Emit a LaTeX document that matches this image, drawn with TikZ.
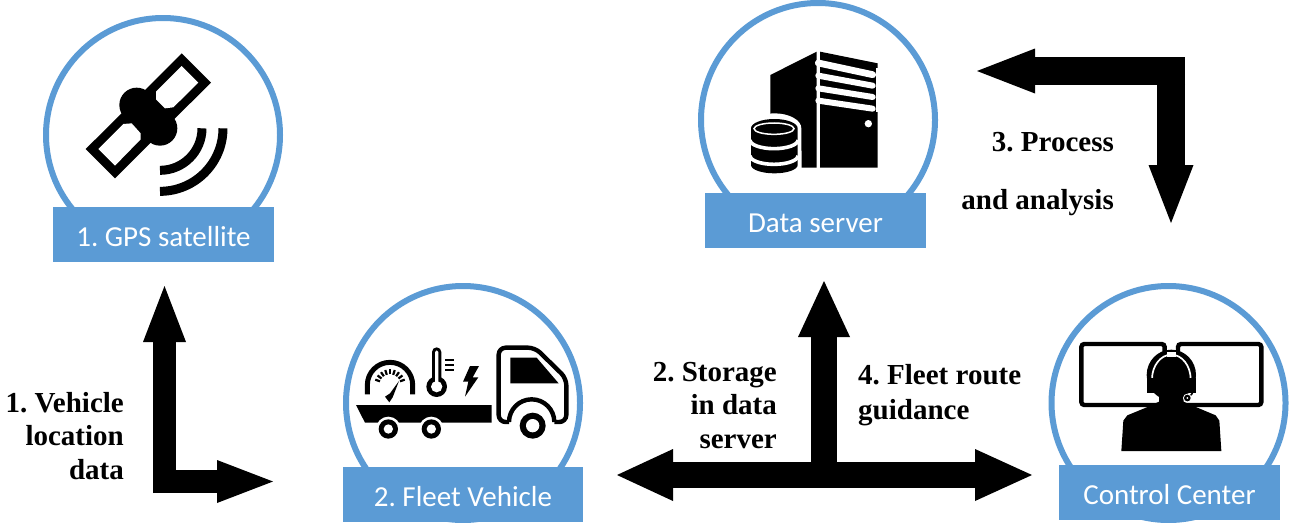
\documentclass[tikz,border=0pt]{standalone}
\usepackage{fontspec}
\setmainfont{Liberation Serif}
\newfontfamily\labfont{Carlito}
\usetikzlibrary{arrows.meta}
\definecolor{ringblue}{HTML}{5B9BD5}
\tikzset{
  ring/.style={circle,draw=ringblue,line width=6pt,fill=white,minimum size=234pt,inner sep=0pt},
  labelbox/.style={rectangle,fill=ringblue,text=white,minimum width=221pt,minimum height=55pt,inner sep=0pt,text height=23pt,text depth=0pt,font=\labfont\fontsize{29}{30}\selectfont},
  steplabel/.style={inner sep=0pt,font=\bfseries\fontsize{29}{33.5}\selectfont},
  ink/.style={fill=black,draw=none},
  blank/.style={fill=white,draw=none},
  tipa/.style={Triangle[length=56pt,width=43pt,line width=0pt]},
}
\frenchspacing
\begin{document}
\begin{tikzpicture}[x=1pt,y=-1pt,line join=miter]
\useasboundingbox (0,0) rectangle (1289,522);

% rings and labels
\node[ring] (gpsring) at (163,135) {};
\node[ring] (fleetring) at (463,403) {};
\node[ring] (dataring) at (818,120) {};
\node[ring] (ctrlring) at (1168.5,403) {};
\node[labelbox] (gps) at (163.5,234.5) {1. GPS satellite};
\node[labelbox,minimum width=240pt] (fleet) at (463,494.5) {2. Fleet Vehicle};
\node[labelbox] (data) at (815.5,220.5) {Data server};
\node[labelbox] (ctrl) at (1169.5,492.5) {Control Center};

% satellite
\begin{scope}[shift={(30,0)},x=0.33333pt,y=-0.33333pt]
  \fill[ink] (455,160) -- (543,248) -- (420,370) -- (330,285) -- cycle;
  \fill[ink] (167,447) -- (255,535) -- (370,420) -- (280,335) -- cycle;
  \fill[ink] (320,315) circle[radius=52];
  \fill[ink] (390,385) circle[radius=52];
  \fill[ink] (285,345) -- (350,280) -- (425,350) -- (355,420) -- cycle;
  \fill[blank] (455,198) -- (505,248) -- (430,322) -- (405,325) -- (378,298) -- (378,275) -- cycle;
  \fill[blank] (205,447) -- (255,497) -- (332,418) -- (332,400) -- (305,370) -- (280,372) -- cycle;
  \draw[line width=9pt] (516,385) arc[start angle=0,end angle=90,radius=126];
  \draw[line width=9pt] (579,385) arc[start angle=0,end angle=90,radius=189];
\end{scope}

% truck
\begin{scope}[shift={(330,270)},x=0.33333pt,y=-0.33333pt]
  % gauge
  \draw[line width=5pt] (112,373) -- (112,345) arc[start angle=180,end angle=360,radius=68] -- (248,373);
  \foreach \a in {200,217.5,...,340}
    \draw[line width=2.2pt] ([shift={(\a:32)}]180,345) -- ([shift={(\a:47)}]180,345);
  \fill[ink] (207,333) -- (188,382) -- (178,397) -- (165,380) -- (180,370) -- cycle;
  % thermometer
  \fill[ink] (306,246) arc[start angle=180,end angle=360,radius=14] -- (334,330) -- (306,330) -- cycle;
  \fill[ink] (320,350) circle[radius=31];
  \fill[blank] (315,246) arc[start angle=180,end angle=360,radius=5] -- (325,340) -- (315,340) -- cycle;
  \fill[blank] (320,350) circle[radius=17];
  \foreach \yy in {270,285,300}
    \draw[line width=1.3pt] (345,\yy) -- (371,\yy);
  % bolt
  \fill[ink] (420,288) -- (447,288) -- (428,322) -- (445,322) -- (405,380) -- (415,335) -- (399,335) -- cycle;
  % bed
  \fill[ink] (78,405) -- (485,405) -- (485,458) -- (105,458) -- cycle;
  \foreach \wx in {175,304} {
    \fill[blank] (\wx,477) circle[radius=37];
    \fill[ink] (\wx,477) circle[radius=29];
    \fill[blank] (\wx,477) circle[radius=14];
  }
  % cab
  \draw[line width=4.4pt,rounded corners=7pt,fill=white] (537,456) -- (506,456) -- (506,233) -- (615,233) -- (709,325) -- (709,456) -- (673,456);
  \draw[line width=4.4pt,fill=white] (673,456) arc[start angle=360,end angle=180,radius=68];
  \fill[blank] (543,456) rectangle (667,500);
  \fill[ink] (541,263) -- (620,263) -- (686,340) -- (541,340) -- cycle;
  \fill[ink] (608,467) circle[radius=39];
  \fill[blank] (608,467) circle[radius=20];
\end{scope}

% server
\begin{scope}[shift={(690,0)},x=0.33333pt,y=-0.33333pt]
  \fill[ink] (241,225) -- (380,155) -- (380,503) -- (241,503) -- cycle;
  \fill[ink] (390,155) -- (563,190) -- (563,503) -- (390,503) -- cycle;
  \fill[blank] (558,205) rectangle (566,335);
  \fill[blank] (380,150) rectangle (390,510);
  \draw[white,line width=6.8pt,line cap=round] (385,189) -- (548,224);
  \draw[white,line width=6pt,line cap=round] (385,227) -- (548,257);
  \draw[white,line width=6pt,line cap=round] (385,265) -- (548,291);
  \draw[white,line width=6pt,line cap=round] (385,302) -- (548,326);
  \fill[blank] (535,371) circle[radius=11];
  % drum
  \fill[blank] (172,385) arc[start angle=180,end angle=360,x radius=81,y radius=45] -- (335,530) -- (172,530) -- cycle;
  \fill[ink] (183,385) arc[start angle=180,end angle=360,x radius=70,y radius=28] -- (323,495) arc[start angle=0,end angle=180,x radius=70,y radius=25] -- cycle;
  \draw[white,line width=1.5pt] (252,386) ellipse[x radius=60,y radius=17];
  \draw[white,line width=3.6pt] (180,420) arc[start angle=180,end angle=0,x radius=72,y radius=26];
  \draw[white,line width=3.6pt] (180,467) arc[start angle=180,end angle=0,x radius=72,y radius=26];
\end{scope}

% operator
\begin{scope}[shift={(1040,270)},x=0.33333pt,y=-0.33333pt]
  \draw[line width=4.4pt,rounded corners=3pt] (124,222) rectangle (374,405);
  \draw[line width=4.4pt,rounded corners=3pt] (414,222) rectangle (664,405);
  \fill[ink] (244,543) -- (250,452) -- (262,436) -- (325,410) -- (357,395) -- (357,360) -- (431,360) -- (431,395) -- (465,410) -- (527,436) -- (538,452) -- (544,543) -- cycle;
  \fill[ink] (394,315) ellipse[x radius=74,y radius=76];
  \draw[white,line width=1.7pt] (336,328) arc[start angle=180,end angle=360,x radius=58,y radius=74];
  \fill[ink] (322,325) rectangle (348,370);
  \fill[ink] (442,325) rectangle (468,370);
  \fill[blank] (381,246) rectangle (408,260);
  \draw[line width=1.5pt] (462,350) .. controls (462,372) and (450,378) .. (442,382);
  \fill[blank] (442,384) circle[radius=13];
  \fill[ink] (442,384) circle[radius=10];
  \fill[blank] (442,384) circle[radius=3];
\end{scope}

% connectors
\coordinate (a1top) at (164.5,286);
\coordinate (a1bend) at (164.5,481.5);
\coordinate (a1right) at (273,481.5);
\draw[line width=23pt,-{Triangle[length=56pt,width=43pt,line width=0pt]}] (a1bend) ++(-11.5,0) -- (a1right);
\draw[line width=23pt,-{Triangle[length=56pt,width=43pt,line width=0pt]}] (a1bend) ++(0,11.5) -- (a1top);

\coordinate (a2left) at (617,475);
\coordinate (a2right) at (1032,475);
\coordinate (a2mid) at (824,475);
\coordinate (a2top) at (824,281);
\draw[line width=26pt,{Triangle[length=56pt,width=52pt,line width=0pt]}-{Triangle[length=57pt,width=52pt,line width=0pt]}] (a2left) -- (a2right);
\draw[line width=26pt,-{Triangle[length=56pt,width=52pt,line width=0pt]}] (a2mid) -- (a2top);

\coordinate (a3left) at (977,71);
\coordinate (a3bend) at (1171,71);
\coordinate (a3down) at (1171,223);
\draw[line width=28pt,-{Triangle[length=58pt,width=45pt,line width=0pt]}] (a3bend) ++(14,0) -- (a3left);
\draw[line width=28pt,-{Triangle[length=58pt,width=45pt,line width=0pt]}] (a3bend) ++(0,-14) -- (a3down);

% step labels
\node[steplabel,align=right,anchor=base east] (t1) at (124,479) {1. Vehicle\\location\\data};
\node[steplabel,align=right,anchor=base east] (t2) at (777,448) {2. Storage\\in data\\server};
\node[steplabel,align=left,anchor=base west,font=\bfseries\fontsize{29}{35}\selectfont] (t4) at (858,419) {4. Fleet route\\guidance};
\node[steplabel,align=right,anchor=base east,font=\bfseries\fontsize{29}{58}\selectfont] (t3) at (1114,209) {3. Process\\and analysis};
\end{tikzpicture}
\end{document}
